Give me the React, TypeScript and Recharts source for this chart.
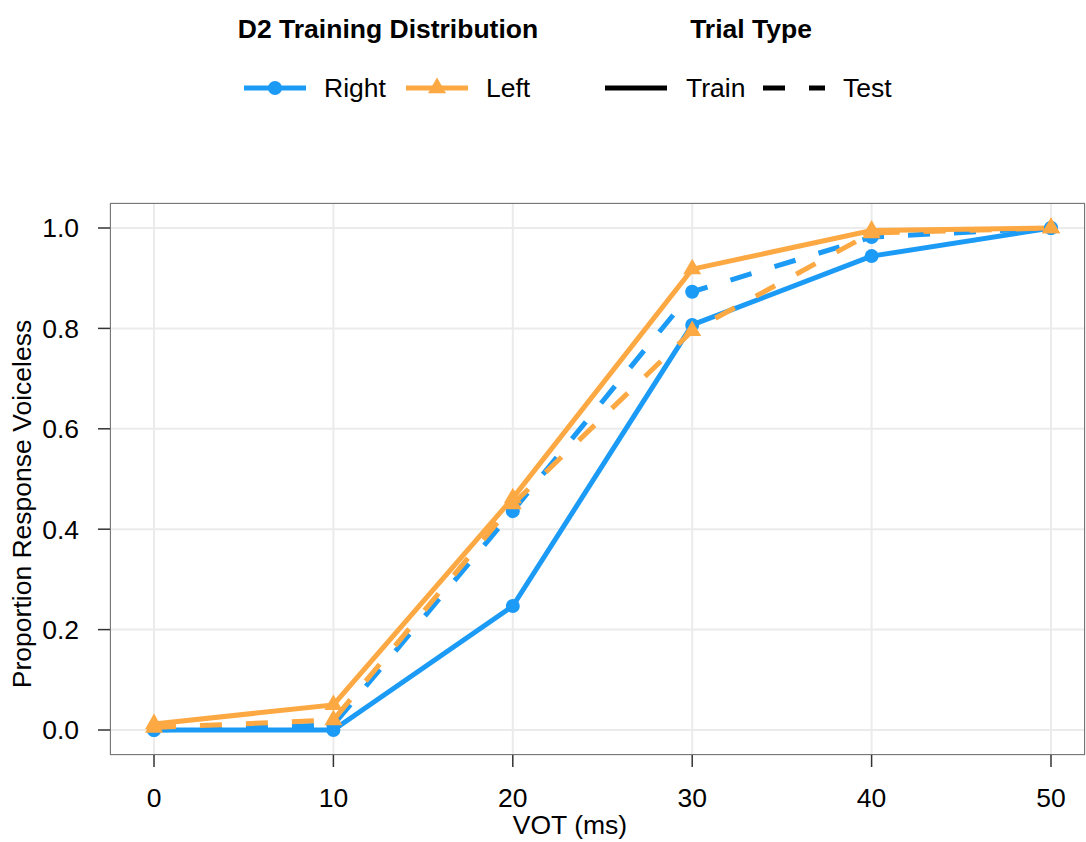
import React from "react";
import { LineChart, Line, XAxis, YAxis, CartesianGrid } from "recharts";

const vot = [0, 10, 20, 30, 40, 50];
const rightTrain = [0, 0, 0.247, 0.807, 0.944, 1.0];
const rightTest = [0, 0.01, 0.436, 0.873, 0.982, 1.0];
const leftTrain = [0.012, 0.05, 0.462, 0.918, 0.995, 1.0];
const leftTest = [0.005, 0.02, 0.45, 0.795, 0.99, 1.0];
const xTicks = [0, 10, 20, 30, 40, 50];
const yTicks = [0, 0.2, 0.4, 0.6, 0.8, 1.0];

const BLUE = "#1C9BF6";
const ORANGE = "#FCA843";
const FONT = "'Liberation Sans', Arial, sans-serif";
const DASH = "22 24";
const FS = 26.5;

const data = vot.map((v, i) => ({
  vot: v,
  rightTrain: rightTrain[i],
  rightTest: rightTest[i],
  leftTrain: leftTrain[i],
  leftTest: leftTest[i],
}));

const triPoints = (cx: number, cy: number, s: number) => {
  const h = s * 0.866;
  return `${cx},${cy - (2 * h) / 3} ${cx - s / 2},${cy + h / 3} ${cx + s / 2},${cy + h / 3}`;
};

const Triangle = (props: any) => {
  const { cx, cy, index } = props;
  if (cx == null || cy == null) return <g key={`t-${index}`} />;
  return <polygon key={`t-${index}`} points={triPoints(cx, cy, 18)} fill={ORANGE} />;
};

const Circle = (props: any) => {
  const { cx, cy, index } = props;
  if (cx == null || cy == null) return <g key={`c-${index}`} />;
  return <circle key={`c-${index}`} cx={cx} cy={cy} r={7} fill={BLUE} />;
};

export default function App() {
  return (
    <div style={{ position: "absolute", left: 0, top: 0, width: 1086, height: 842, background: "#fff", fontFamily: FONT }}>
      <LineChart
        width={1086}
        height={842}
        data={data}
        margin={{ top: 203, right: 1, bottom: 0, left: 0 }}
      >
        <CartesianGrid stroke="#EBEBEB" strokeWidth={2} />
        <XAxis
          dataKey="vot"
          type="number"
          domain={[0, 50]}
          ticks={xTicks}
          padding={{ left: 44, right: 34 }}
          height={87}
          axisLine={false}
          tickSize={12}
          tickMargin={21}
          tickLine={{ stroke: "#333", strokeWidth: 1.5 }}
          tick={{ fill: "#000", fontSize: FS, fontFamily: FONT }}
        />
        <YAxis
          type="number"
          domain={[0, 1]}
          ticks={yTicks}
          padding={{ top: 25, bottom: 25 }}
          width={110}
          axisLine={false}
          tickSize={12}
          tickMargin={19}
          tickLine={{ stroke: "#333", strokeWidth: 1.5 }}
          tick={{ fill: "#000", fontSize: FS, fontFamily: FONT }}
          tickFormatter={(v: number) => v.toFixed(1)}
        />
        <Line dataKey="rightTrain" stroke={BLUE} strokeWidth={5} dot={Circle} activeDot={false} isAnimationActive={false} />
        <Line dataKey="rightTest" stroke={BLUE} strokeWidth={5} strokeDasharray={DASH} dot={Circle} activeDot={false} isAnimationActive={false} />
        <Line dataKey="leftTest" stroke={ORANGE} strokeWidth={5} strokeDasharray={DASH} dot={Triangle} activeDot={false} isAnimationActive={false} />
        <Line dataKey="leftTrain" stroke={ORANGE} strokeWidth={5} dot={Triangle} activeDot={false} isAnimationActive={false} />
      </LineChart>

      <div
        style={{
          position: "absolute",
          left: 110,
          top: 203,
          width: 975,
          height: 552,
          boxSizing: "border-box",
          border: "1.5px solid #777",
          pointerEvents: "none",
        }}
      />

      <svg
        width={1086}
        height={842}
        style={{ position: "absolute", left: 0, top: 0, pointerEvents: "none" }}
      >
        <text x={388} y={38} textAnchor="middle" fontFamily={FONT} fontWeight="bold" fontSize={FS} fill="#000">
          D2 Training Distribution
        </text>
        <text x={751} y={38} textAnchor="middle" fontFamily={FONT} fontWeight="bold" fontSize={FS} fill="#000">
          Trial Type
        </text>

        <line x1={244} x2={306} y1={88} y2={88} stroke={BLUE} strokeWidth={5} />
        <circle cx={275} cy={88} r={7} fill={BLUE} />
        <text x={324} y={97} fontFamily={FONT} fontSize={FS} fill="#000">Right</text>

        <line x1={406} x2={468} y1={88} y2={88} stroke={ORANGE} strokeWidth={5} />
        <polygon points={triPoints(437, 88, 18)} fill={ORANGE} />
        <text x={486} y={97} fontFamily={FONT} fontSize={FS} fill="#000">Left</text>

        <line x1={605} x2={667} y1={88} y2={88} stroke="#000" strokeWidth={5} />
        <text x={686} y={97} fontFamily={FONT} fontSize={FS} fill="#000">Train</text>

        <line x1={763} x2={825} y1={88} y2={88} stroke="#000" strokeWidth={5} strokeDasharray={DASH} />
        <text x={843} y={97} fontFamily={FONT} fontSize={FS} fill="#000">Test</text>

        <text x={570} y={834} textAnchor="middle" fontFamily={FONT} fontSize={FS} fill="#000">VOT (ms)</text>
        <text
          x={0}
          y={0}
          transform="translate(31,504) rotate(-90)"
          textAnchor="middle"
          fontFamily={FONT}
          fontSize={FS}
          fill="#000"
        >
          Proportion Response Voiceless
        </text>
      </svg>
    </div>
  );
}
